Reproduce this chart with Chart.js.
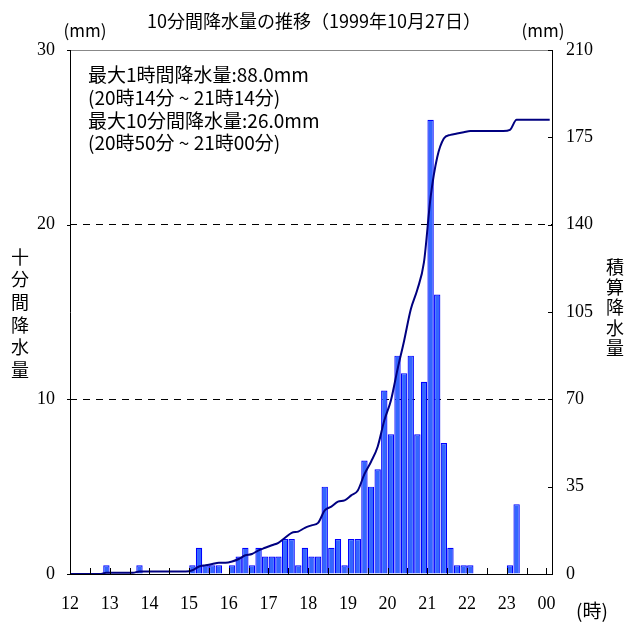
<!DOCTYPE html>
<html>
<head>
<meta charset="utf-8">
<script src="https://cdn.jsdelivr.net/npm/chart.js@4.4.1/dist/chart.umd.min.js"></script>
<style>
    body { margin: 0; background: #fff; }
    #wrap { width: 625px; height: 625px; }
</style>
</head>
<body>
<div id="wrap"><canvas id="rainChart" width="625" height="625"></canvas></div>
<script>
// 10-minute slots from 12:00 (slot 0) to 24:00 (slot 72)
const hourLabels = ['12', '13', '14', '15', '16', '17', '18', '19', '20', '21', '22', '23', '00'];

// 10分間降水量 (mm), one value per slot
const rain10min = [
    0, 0, 0, 0, 0, 0.5,
    0, 0, 0, 0, 0.5, 0,
    0, 0, 0, 0, 0, 0,
    0.5, 1.5, 0.5, 0.5, 0.5, 0,
    0.5, 1.0, 1.5, 0.5, 1.5, 1.0,
    1.0, 1.0, 2.0, 2.0, 0.5, 1.5,
    1.0, 1.0, 5.0, 1.5, 2.0, 0.5,
    2.0, 2.0, 6.5, 5.0, 6.0, 10.5,
    8.0, 12.5, 11.5, 12.5, 8.0, 11.0,
    26.0, 16.0, 7.5, 1.5, 0.5, 0.5,
    0.5, 0, 0, 0, 0, 0,
    0.5, 4.0, 0, 0, 0, 0,
    0
];

// 積算降水量 (mm), one value per slot
const rainTotal = [
    0, 0, 0, 0, 0, 0.5,
    0.5, 0.5, 0.5, 0.5, 1.0, 1.0,
    1.0, 1.0, 1.0, 1.0, 1.0, 1.0,
    1.5, 3.0, 3.5, 4.0, 4.5, 4.5,
    5.0, 6.0, 7.5, 8.0, 9.5, 10.5,
    11.5, 12.5, 14.5, 16.5, 17.0, 18.5,
    19.5, 20.5, 25.5, 27.0, 29.0, 29.5,
    31.5, 33.5, 40.0, 45.0, 51.0, 61.5,
    69.5, 82.0, 93.5, 106.0, 114.0, 125.0,
    151.0, 167.0, 174.5, 176.0, 176.5, 177.0,
    177.5, 177.5, 177.5, 177.5, 177.5, 177.5,
    178.0, 182.0, 182.0, 182.0, 182.0, 182.0,
    182.0
];

const leftTicks = [0, 10, 20, 30];
const rightTicks = [0, 35, 70, 105, 140, 175, 210];

const titleText = '10分間降水量の推移（1999年10月27日）';
const leftTitle = ['十', '分', '間', '降', '水', '量'];
const rightTitle = ['積', '算', '降', '水', '量'];
const notes = [
    '最大1時間降水量:88.0mm',
    '(20時14分 ~ 21時14分)',
    '最大10分間降水量:26.0mm',
    '(20時50分 ~ 21時00分)'
];

const jpFont = '"Noto Sans CJK JP", "Noto Sans", sans-serif';
const numFont = '"Liberation Serif", "DejaVu Serif", serif';

const barData = [];
rain10min.forEach((v, i) => {
    if (v > 0) barData.push({x: i + 0.5, y: v});
});
const lineData = [{x: 0, y: 0}];
rainTotal.forEach((v, i) => lineData.push({x: i + 0.5, y: v}));

const frameAndText = {
    id: 'frameAndText',
    afterDraw(chart) {
        const ctx = chart.ctx;
        const area = chart.chartArea;
        const x = chart.scales.x;
        const y = chart.scales.y;
        const y2 = chart.scales.y2;

        ctx.save();
        ctx.lineWidth = 1;

        // frame
        ctx.strokeStyle = '#888';
        ctx.beginPath();
        ctx.moveTo(area.left, area.top + 0.5);
        ctx.lineTo(area.right, area.top + 0.5);
        ctx.stroke();
        ctx.strokeStyle = '#000';
        ctx.beginPath();
        ctx.moveTo(area.left + 0.5, area.top);
        ctx.lineTo(area.left + 0.5, area.bottom + 0.5);
        ctx.lineTo(area.right - 0.5, area.bottom + 0.5);
        ctx.lineTo(area.right - 0.5, area.top);
        ctx.stroke();

        // tick marks
        ctx.beginPath();
        for (let v = 3; v <= 72; v += 3) {
            const px = Math.round(x.getPixelForValue(v)) + 0.5;
            ctx.moveTo(px, area.bottom);
            ctx.lineTo(px, area.bottom - 6);
        }
        leftTicks.forEach(v => {
            const py = Math.round(y.getPixelForValue(v)) + 0.5;
            ctx.moveTo(area.left - 3, py);
            ctx.lineTo(area.left + 1, py);
        });
        rightTicks.forEach(v => {
            const py = Math.round(y2.getPixelForValue(v)) + 0.5;
            ctx.moveTo(area.right - 5, py);
            ctx.lineTo(area.right, py);
        });
        ctx.stroke();

        // texts
        ctx.fillStyle = '#000';
        ctx.textBaseline = 'middle';
        ctx.textAlign = 'center';
        ctx.font = '18px ' + jpFont;
        ctx.fillText(titleText, 314, 21);
        ctx.font = '17px ' + jpFont;
        ctx.fillText('(mm)', 85, 31);
        ctx.fillText('(mm)', 543, 31);
        ctx.font = '19px ' + jpFont;
        ctx.fillText('(時)', 592, 611);

        ctx.font = '18px ' + jpFont;
        leftTitle.forEach((c, i) => ctx.fillText(c, 20, 257 + i * 22.6));
        rightTitle.forEach((c, i) => ctx.fillText(c, 615, 267 + i * 20.3));

        ctx.textAlign = 'left';
        ctx.font = '19px ' + jpFont;
        notes.forEach((t, i) => ctx.fillText(t, 88, 75 + i * 22.7));
        ctx.restore();
    }
};

new Chart(document.getElementById('rainChart'), {
    data: {
        datasets: [
            {
                type: 'line',
                data: lineData,
                yAxisID: 'y2',
                borderColor: '#000080',
                borderWidth: 2,
                pointRadius: 0,
                cubicInterpolationMode: 'monotone',
                order: 0
            },
            {
                type: 'bar',
                data: barData,
                yAxisID: 'y',
                backgroundColor: '#3366ff',
                borderColor: '#0000ff',
                borderWidth: 1.2,
                barPercentage: 0.96,
                categoryPercentage: 1,
                order: 1
            }
        ]
    },
    options: {
        responsive: false,
        animation: false,
        layout: {padding: {top: 50, left: 0, right: 0, bottom: 0}},
        plugins: {legend: {display: false}, tooltip: {enabled: false}},
        scales: {
            x: {
                type: 'linear',
                min: 0,
                max: 73,
                offset: false,
                grid: {display: false, drawTicks: false},
                border: {display: false},
                afterBuildTicks: s => {
                    s.ticks = hourLabels.map((h, i) => ({value: i * 6}));
                },
                ticks: {
                    autoSkip: false,
                    maxRotation: 0,
                    padding: 19,
                    color: '#000',
                    font: {family: numFont, size: 18},
                    callback: (v, i) => hourLabels[i]
                },
                afterFit: s => { s.height = 51; }
            },
            y: {
                position: 'left',
                min: 0,
                max: 30,
                grid: {
                    drawTicks: false,
                    color: c => (c.tick && c.tick.value > 0 && c.tick.value < 30) ? '#000' : 'rgba(0,0,0,0)'
                },
                border: {display: false, dash: [7, 6]},
                ticks: {
                    stepSize: 10,
                    padding: 15,
                    color: '#000',
                    font: {family: numFont, size: 18}
                },
                afterFit: s => { s.width = 70; }
            },
            y2: {
                position: 'right',
                min: 0,
                max: 210,
                grid: {display: false, drawTicks: false},
                border: {display: false},
                ticks: {
                    stepSize: 35,
                    padding: 13,
                    color: '#000',
                    font: {family: numFont, size: 18}
                },
                afterFit: s => { s.width = 72; }
            }
        }
    },
    plugins: [frameAndText]
});
</script>
</body>
</html>
